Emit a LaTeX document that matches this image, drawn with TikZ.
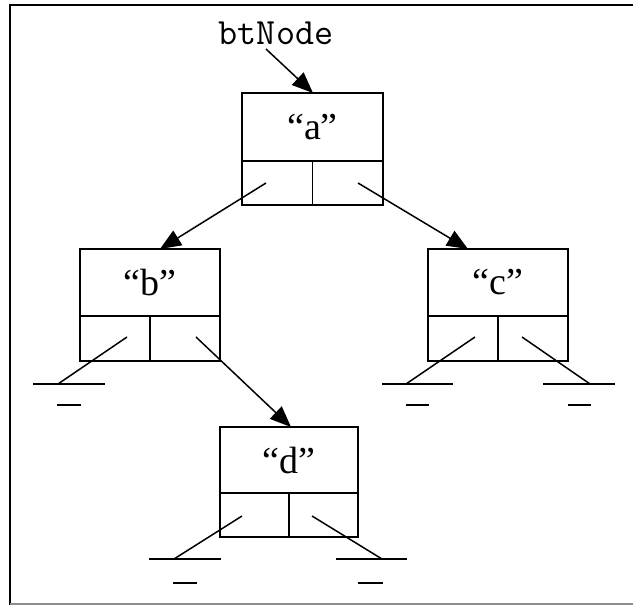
\documentclass[tikz,border=0pt]{standalone}
\usepackage{fontspec}
\setmainfont{Liberation Serif}
\usetikzlibrary{arrows.meta}
\begin{document}
\begin{tikzpicture}[x=1pt,y=-1pt,
  box/.style={draw, line width=1.5pt, inner sep=0pt, outer sep=0pt, minimum width=141pt, minimum height=68pt, anchor=north west, font=\fontsize{38}{40}\selectfont},
  cell/.style={draw, line width=1.5pt, inner sep=0pt, outer sep=0pt, minimum width=70.5pt, minimum height=44pt},
  ptr/.style={line width=1.5pt, -{Triangle[length=21pt,width=17pt]}},
  nullptr/.style={line width=1.5pt},
  ground/.style={line width=1.5pt}]
\useasboundingbox (0,0) rectangle (633,605);
% frame
\draw[line width=2pt] (10,640) -- (10,5) -- (650,5);
\draw[line width=1.5pt, black!45] (10,604) -- (650,604);

% label
\node[font=\ttfamily\fontsize{37}{39}\selectfont, inner sep=0pt] (lbl) at (276,33) {btNode};
\coordinate (lblS) at (266,49);

% node a
\node[box] (a) at (242,93) {“a”};
\node[cell, anchor=north west] (aL) at (a.south west) {};
\node[cell, anchor=north east] (aR) at (a.south east) {};
% node b
\node[box, minimum width=140pt, minimum height=67pt] (b) at (80,249) {“b”};
\node[cell, minimum width=70pt, minimum height=45pt, anchor=north west] (bL) at (b.south west) {};
\node[cell, minimum width=70pt, minimum height=45pt, anchor=north east] (bR) at (b.south east) {};
% node c
\node[box, minimum width=140pt, minimum height=67pt] (c) at (428,249) {“c”};
\node[cell, minimum width=70pt, minimum height=45pt, anchor=north west] (cL) at (c.south west) {};
\node[cell, minimum width=70pt, minimum height=45pt, anchor=north east] (cR) at (c.south east) {};
% node d
\node[box, minimum width=138pt, minimum height=66pt] (d) at (220,427) {“d”};
\node[cell, minimum width=69pt, minimum height=44pt, anchor=north west] (dL) at (d.south west) {};
\node[cell, minimum width=69pt, minimum height=44pt, anchor=north east] (dR) at (d.south east) {};

% pointer start points
\coordinate (aLs) at (266,183);
\coordinate (aRs) at (358,183);
\coordinate (bLs) at (127,337);
\coordinate (bRs) at (196,337);
\coordinate (cLs) at (475,337);
\coordinate (cRs) at (522,337);
\coordinate (dLs) at (242,516);
\coordinate (dRs) at (312,516);
% arrow tips
\coordinate (aTip) at (313,93);
\coordinate (bTip) at (160,249);
\coordinate (cTip) at (468,249);
\coordinate (dTip) at (291,427);

\draw[ptr] (lblS) -- (aTip);
\draw[ptr] (aLs) -- (bTip);
\draw[ptr] (aRs) -- (cTip);
\draw[ptr] (bRs) -- (dTip);

% null pointers
\coordinate (bLg) at (58,384);
\coordinate (cLg) at (406,384);
\coordinate (cRg) at (590,384);
\coordinate (dLg) at (174,559);
\coordinate (dRg) at (382,559);
\draw[nullptr] (bLs) -- (bLg);
\draw[nullptr] (cLs) -- (cLg);
\draw[nullptr] (cRs) -- (cRg);
\draw[nullptr] (dLs) -- (dLg);
\draw[nullptr] (dRs) -- (dRg);
% ground symbols
\draw[ground] (33,384) -- (105,384) (57,405) -- (81,405);
\draw[ground] (382,384) -- (453,384) (406,405) -- (429,405);
\draw[ground] (543,384) -- (615,384) (568,405) -- (591,405);
\draw[ground] (149,559) -- (221,559) (173,583) -- (197,583);
\draw[ground] (336,559) -- (407,559) (358,583) -- (383,583);
\end{tikzpicture}
\end{document}
